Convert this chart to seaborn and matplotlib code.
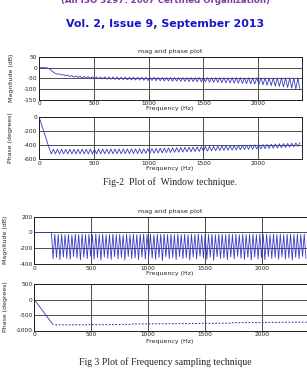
import numpy as np
import matplotlib
matplotlib.use("Agg")
import matplotlib.pyplot as plt
import seaborn as sns

# Fig-2 : window technique, freqz sur 128 points (0 .. fs/2)
freq_win = np.linspace(0, 2381.25, 128)
mag_win = [0, 0, 0, 0, -1, -5, -13, -21, -27, -31, -29, -35, -32, -38, -35, -41,
           -37, -44, -39, -46, -40, -48, -41, -49, -42, -50, -43, -52, -43, -52, -44, -53,
           -43, -54, -44, -54, -44, -55, -44, -56, -45, -56, -44, -57, -45, -57, -45, -58,
           -45, -58, -45, -59, -45, -60, -46, -60, -45, -61, -46, -61, -46, -62, -46, -62,
           -46, -63, -46, -63, -46, -64, -46, -64, -47, -65, -46, -65, -47, -66, -46, -66,
           -47, -67, -47, -68, -47, -68, -47, -69, -47, -70, -47, -71, -47, -72, -47, -72,
           -47, -73, -47, -74, -48, -75, -47, -76, -48, -77, -47, -78, -48, -80, -48, -82,
           -48, -84, -48, -86, -48, -88, -48, -90, -48, -93, -48, -96, -48, -100, -48, -104]
phase_win = [0, -90, -180, -270, -360, -450, -528, -462, -529, -462, -528, -461, -529, -462, -528, -461,
             -528, -461, -529, -460, -528, -461, -528, -460, -527, -460, -528, -460, -527, -459, -527, -459,
             -526, -459, -526, -458, -526, -458, -525, -458, -525, -457, -525, -457, -524, -456, -524, -456,
             -523, -455, -523, -455, -522, -454, -520, -452, -518, -450, -515, -447, -513, -445, -511, -443,
             -508, -441, -506, -439, -504, -436, -502, -434, -499, -432, -497, -430, -495, -427, -493, -425,
             -490, -423, -488, -421, -486, -419, -483, -417, -481, -415, -479, -413, -476, -411, -474, -409,
             -472, -407, -469, -405, -467, -403, -464, -400, -462, -398, -459, -396, -456, -394, -453, -391,
             -450, -389, -447, -387, -444, -384, -440, -382, -436, -379, -432, -376, -428, -373, -422, -368]

# Fig 3 : frequency sampling technique
freq_fs = np.linspace(0, 2385, 160)
mag_fs = [0, 0, 0, 0, 0, 0, 0, 0, 0, 0,
          0, -330, -22, -318, -25, -345, -20, -312, -28, -330,
          -24, -340, -30, -305, -22, -325, -26, -348, -21, -315,
          -27, -332, -23, -300, -29, -338, -20, -320, -25, -352,
          -22, -310, -28, -328, -24, -342, -21, -308, -27, -335,
          -23, -318, -30, -350, -22, -305, -26, -330, -20, -322,
          -28, -345, -24, -312, -21, -336, -27, -302, -23, -328,
          -29, -340, -22, -316, -25, -355, -20, -310, -26, -332,
          -23, -320, -28, -344, -21, -306, -27, -330, -24, -318,
          -30, -348, -22, -312, -25, -334, -20, -302, -28, -326,
          -23, -340, -26, -314, -21, -352, -29, -308, -24, -330,
          -22, -322, -27, -345, -20, -310, -25, -336, -23, -304,
          -28, -328, -21, -342, -26, -316, -24, -350, -22, -312,
          -27, -334, -20, -320, -25, -346, -23, -306, -29, -330,
          -22, -318, -26, -340, -21, -310, -28, -336, -24, -324,
          -20, -348, -27, -314, -23, -332, -25, -305, -21, -326]
phase_fs_f1 = [0, 165]
phase_fs_1 = [0, -815]
phase_fs_f2 = [185, 850, 860, 1720, 1730, 2390]
phase_fs_2 = [-818, -806, -790, -764, -748, -732]

sns.set_style("white")
plt.rcParams['axes.unicode_minus'] = False
plt.rcParams['font.family'] = ['DejaVu Sans']

W, H = 307, 379
fig = plt.figure(figsize=(W / 100, H / 100), dpi=100)
bleu = '#3a3ac4'
fs_tick = 4.2


def add_ax(l, t, r, b):
    return fig.add_axes([l / W, 1 - b / H, (r - l) / W, (b - t) / H])


def txt(x, y, s, **kw):
    fig.text(x / W, 1 - y / H, s, ha='center', va='center', **kw)


def style(ax, xlim, ylim, yticks):
    ax.set_xlim(*xlim)
    ax.set_ylim(*ylim)
    ax.set_xticks([0, 500, 1000, 1500, 2000])
    ax.set_yticks(yticks)
    ax.grid(True, color='#303030', linewidth=0.6)
    ax.tick_params(labelsize=fs_tick, length=0, pad=1.2, colors='#222222')
    for s in ax.spines.values():
        s.set_color('#202020')
        s.set_linewidth(0.7)
    ax.set_xlabel('')
    ax.set_ylabel('')


# entête de page (coupée en haut comme sur le scan)
txt(165, 0.5, '(An ISO 3297: 2007 Certified Organization)', color='#7a3ca8',
    fontsize=6.2, fontweight='bold')
txt(165, 24, 'Vol. 2, Issue 9, September 2013', color='#1515c8',
    fontsize=7.9, fontweight='bold')

# Fig-2
ax = add_ax(39, 57, 302, 99.7)
sns.lineplot(x=freq_win, y=mag_win, ax=ax, color=bleu, linewidth=0.6, estimator=None)
style(ax, (0, 2400), (-150, 50), [-150, -100, -50, 0, 50])
ax = add_ax(39, 116.7, 302, 159)
sns.lineplot(x=freq_win, y=phase_win, ax=ax, color=bleu, linewidth=0.6, estimator=None)
style(ax, (0, 2400), (-600, 0), [-600, -400, -200, 0])
txt(170, 52, 'mag and phase plot', fontsize=4.6)
txt(170, 108.8, 'Frequency (Hz)', fontsize=4.5)
txt(170, 168.3, 'Frequency (Hz)', fontsize=4.5)
txt(11.5, 78, 'Magnitude (dB)', fontsize=4.5, rotation=90)
txt(10.5, 138, 'Phase (degrees)', fontsize=4.5, rotation=90)
txt(170, 182.5, 'Fig-2  Plot of  Window technique.', fontsize=7, family='Liberation Serif')

# Fig 3
ax = add_ax(34.3, 216.7, 306.5, 264)
sns.lineplot(x=freq_fs, y=mag_fs, ax=ax, color=bleu, linewidth=0.6, estimator=None)
style(ax, (0, 2390), (-400, 200), [-400, -200, 0, 200])
ax = add_ax(34.3, 284, 306.5, 330.5)
sns.lineplot(x=phase_fs_f1, y=phase_fs_1, ax=ax, color=bleu, linewidth=0.6, estimator=None)
ax.plot(phase_fs_f2, phase_fs_2, color=bleu, linewidth=0.8, linestyle=(0, (1.5, 1.5)))
style(ax, (0, 2390), (-1000, 500), [-1000, -500, 0, 500])
txt(170, 211.5, 'mag and phase plot', fontsize=4.6)
txt(170, 274, 'Frequency (Hz)', fontsize=4.5)
txt(170, 341, 'Frequency (Hz)', fontsize=4.5)
txt(6, 240, 'Magnitude (dB)', fontsize=4.5, rotation=90)
txt(6, 307, 'Phase (degrees)', fontsize=4.5, rotation=90)
txt(165, 362, 'Fig 3 Plot of Frequency sampling technique', fontsize=7, family='Liberation Serif')

fig.savefig('out.png', dpi=100)
